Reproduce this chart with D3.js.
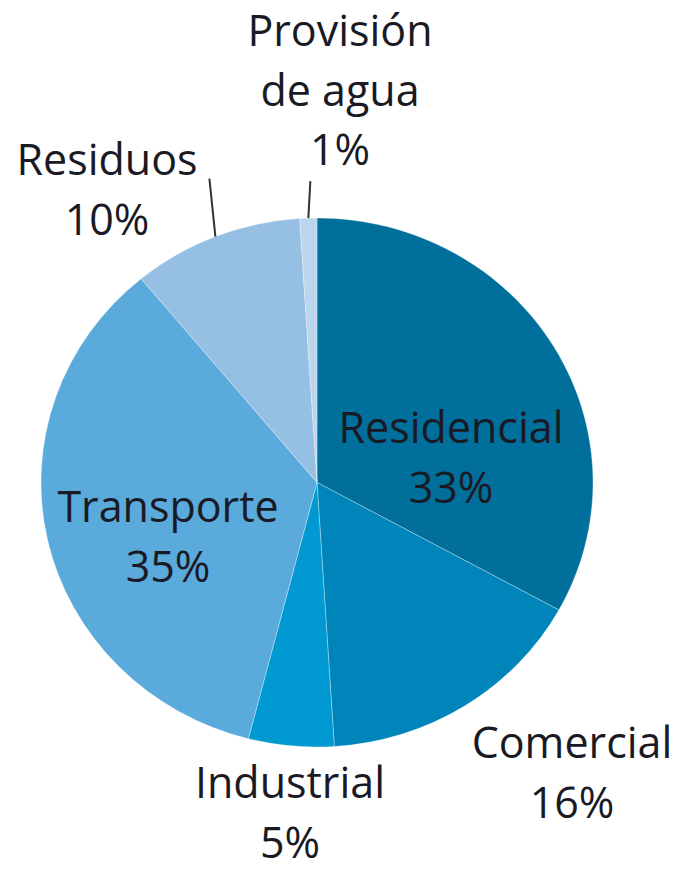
<!DOCTYPE html>
<html>
<head>
<meta charset="utf-8">
<script src="https://cdn.jsdelivr.net/npm/d3@7"></script>
<style>
  html, body { margin: 0; padding: 0; background: #fff; }
  svg text { font-family: "Open Sans", sans-serif; fill: #1a1a24; }
</style>
</head>
<body>
<div id="chart"></div>
<script>
// data
var categories = ["Residencial", "Comercial", "Industrial", "Transporte", "Residuos", "Provisión de agua"];
var values = [33, 16, 5, 35, 10, 1];
var colors = ["#006f9b", "#0085ba", "#0099d2", "#5aaadc", "#95c0e4", "#bcd6ee"];
// label lines (text split for wrapping)
var labelLines = [["Residencial"], ["Comercial"], ["Industrial"], ["Transporte"], ["Residuos"], ["Provisión", "de agua"]];

// layout
var width = 681, height = 870;
var cx = 317, cy = 482.5, rx = 276, ry = 264.5;
var fontSize = 43, lineH = 59.5;
// label block: centre x, first baseline
var labelPos = [[451, 443], [572, 758], [290, 798], [168, 522], [107, 175], [340, 46]];
// leader lines: [dx, length] from slice edge, null = none
var leaders = [null, null, null, null, [-6, 58], [2, 37]];

var svg = d3.select("#chart").append("svg")
    .attr("width", width)
    .attr("height", height);

var pie = d3.pie()
    .sort(null)
    .value(function (d) { return d; });

var arcs = pie(values);

var arc = d3.arc()
    .innerRadius(0)
    .outerRadius(ry);

var edge = d3.arc()
    .innerRadius(ry)
    .outerRadius(ry);

var slices = svg.append("g")
    .attr("transform", "translate(" + cx + "," + cy + ") scale(" + (rx / ry) + ",1)");

slices.selectAll("path")
    .data(arcs)
    .enter().append("path")
    .attr("d", arc)
    .style("fill", function (d, i) { return colors[i]; })
    .style("stroke", "rgba(255,255,255,0.3)")
    .style("stroke-width", 1)
    .attr("vector-effect", "non-scaling-stroke");

// leader lines
arcs.forEach(function (d, i) {
    if (!leaders[i]) return;
    var p = edge.centroid(d);
    var x0 = cx + p[0] * rx / ry, y0 = cy + p[1];
    svg.append("line")
        .attr("x1", x0)
        .attr("y1", y0)
        .attr("x2", x0 + leaders[i][0])
        .attr("y2", y0 - leaders[i][1])
        .style("stroke", "#333")
        .style("stroke-width", 2);
});

// labels
var labels = svg.append("g");
arcs.forEach(function (d, i) {
    var lines = labelLines[i].concat([d3.format(".0f")(values[i]) + "%"]);
    var t = labels.append("text")
        .attr("text-anchor", "middle")
        .style("font-size", fontSize + "px");
    lines.forEach(function (s, j) {
        t.append("tspan")
            .attr("x", labelPos[i][0])
            .attr("y", labelPos[i][1] + j * lineH)
            .text(s);
    });
});
</script>
</body>
</html>
